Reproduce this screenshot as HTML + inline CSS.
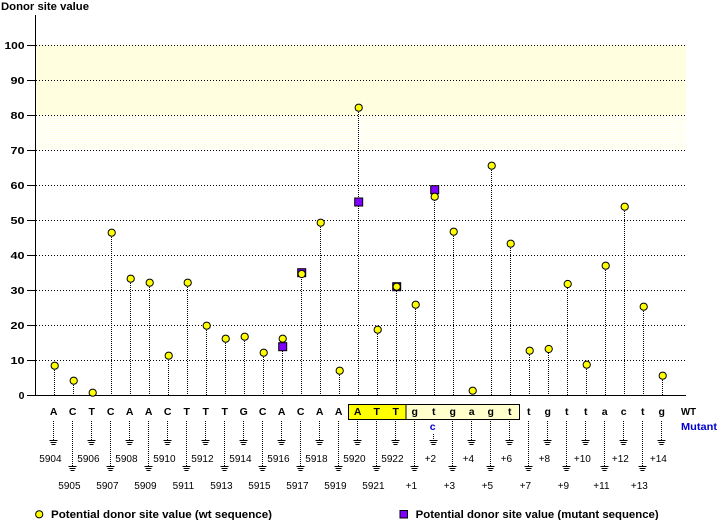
<!DOCTYPE html>
<html><head><meta charset="utf-8"><style>
html,body{margin:0;padding:0;background:#fff;}
svg{display:block;}
text{font-family:"Liberation Sans",Arial,sans-serif;}
.b{font-weight:bold;font-size:10px;}
.bl{font-weight:bold;font-size:10.5px;}
.bg{font-weight:bold;font-size:11px;}
.n{font-size:10px;}
</style></head><body>
<svg width="720" height="520" viewBox="0 0 720 520" xmlns="http://www.w3.org/2000/svg">
<defs>
<pattern id="dith" width="2" height="2" patternUnits="userSpaceOnUse">
<rect width="2" height="2" fill="#fff"/>
<rect x="0" y="0" width="1" height="1" fill="#ffffdc"/>
<rect x="1" y="1" width="1" height="1" fill="#fffff4"/>
</pattern>
<g id="gnd"><path d="M-4 0.5h8M-3 2.5h6M-2 4.5h4" stroke="#000" stroke-width="1" fill="none" shape-rendering="crispEdges"/></g>
</defs>
<text class="bg" x="1" y="10" textLength="88" lengthAdjust="spacingAndGlyphs">Donor site value</text>
<!-- band -->
<rect x="36" y="45" width="650" height="70" fill="#ffffe0"/>
<rect x="36" y="115" width="650" height="35" fill="url(#dith)"/>
<!-- grid -->
<g stroke="#000" stroke-width="1" stroke-dasharray="1 2" shape-rendering="crispEdges">
<path d="M36 45.5H686M36 80.5H686M36 115.5H686M36 150.5H686M36 185.5H686M36 220.5H686M36 255.5H686M36 290.5H686M36 325.5H686M36 360.5H686"/>
</g>
<!-- axes -->
<g stroke="#000" stroke-width="1" shape-rendering="crispEdges">
<path d="M35.5 15V396M35 395.5H686"/>
<path d="M27 45.5H35M27 80.5H35M27 115.5H35M27 150.5H35M27 185.5H35M27 220.5H35M27 255.5H35M27 290.5H35M27 325.5H35M27 360.5H35M27 395.5H35"/>
</g>
<g class="bl" text-anchor="end">
<text x="24.5" y="49" textLength="20" lengthAdjust="spacingAndGlyphs">100</text>
<text x="24.5" y="84" textLength="14" lengthAdjust="spacingAndGlyphs">90</text>
<text x="24.5" y="119" textLength="14" lengthAdjust="spacingAndGlyphs">80</text>
<text x="24.5" y="154" textLength="14" lengthAdjust="spacingAndGlyphs">70</text>
<text x="24.5" y="189" textLength="14" lengthAdjust="spacingAndGlyphs">60</text>
<text x="24.5" y="224" textLength="14" lengthAdjust="spacingAndGlyphs">50</text>
<text x="24.5" y="259" textLength="14" lengthAdjust="spacingAndGlyphs">40</text>
<text x="24.5" y="294" textLength="14" lengthAdjust="spacingAndGlyphs">30</text>
<text x="24.5" y="329" textLength="14" lengthAdjust="spacingAndGlyphs">20</text>
<text x="24.5" y="364" textLength="14" lengthAdjust="spacingAndGlyphs">10</text>
<text x="24.5" y="399">0</text>
</g>
<!-- stems -->
<path stroke="#000" stroke-width="1" stroke-dasharray="1 1" fill="none" shape-rendering="crispEdges" d="M54.5 366V395M73.5 381V395M92.5 393V395M111.5 233V395M130.5 279V395M149.5 283V395M168.5 356V395M187.5 283V395M206.5 326V395M225.5 339V395M244.5 337V395M263.5 353V395M282.5 339V395M301.5 273V395M320.5 223V395M339.5 371V395M358.5 108V395M377.5 330V395M396.5 287V395M415.5 305V395M434.5 190V395M453.5 232V395M472.5 391V395M491.5 166V395M510.5 244V395M529.5 351V395M548.5 349V395M567.5 284V395M586.5 365V395M605.5 266V395M624.5 207V395M643.5 307V395M662.5 376V395"/>
<!-- mutant squares -->
<g fill="#8000ff" stroke="#000" stroke-width="1">
<rect x="278.7" y="342.7" width="8" height="8"/>
<rect x="297.7" y="268.7" width="8" height="8"/>
<rect x="354.7" y="198" width="8" height="8"/>
<rect x="392.7" y="282.7" width="8" height="8"/>
<rect x="430.7" y="185.7" width="8" height="8"/>
</g>
<!-- wt circles -->
<g fill="#ffff00" stroke="#000" stroke-width="1">
<circle cx="54.7" cy="365.7" r="3.6"/>
<circle cx="73.7" cy="380.7" r="3.6"/>
<circle cx="92.7" cy="392.7" r="3.6"/>
<circle cx="111.7" cy="232.7" r="3.6"/>
<circle cx="130.7" cy="278.7" r="3.6"/>
<circle cx="149.7" cy="282.7" r="3.6"/>
<circle cx="168.7" cy="355.7" r="3.6"/>
<circle cx="187.7" cy="282.7" r="3.6"/>
<circle cx="206.7" cy="325.7" r="3.6"/>
<circle cx="225.7" cy="338.7" r="3.6"/>
<circle cx="244.7" cy="336.7" r="3.6"/>
<circle cx="263.7" cy="352.7" r="3.6"/>
<circle cx="282.7" cy="338.7" r="3.6"/>
<circle cx="301.7" cy="274" r="3.6"/>
<circle cx="320.7" cy="222.7" r="3.6"/>
<circle cx="339.7" cy="370.7" r="3.6"/>
<circle cx="358.7" cy="107.7" r="3.6"/>
<circle cx="377.7" cy="329.7" r="3.6"/>
<circle cx="396.7" cy="286.7" r="3.6"/>
<circle cx="415.7" cy="304.7" r="3.6"/>
<circle cx="434.7" cy="196.7" r="3.6"/>
<circle cx="453.7" cy="231.7" r="3.6"/>
<circle cx="472.7" cy="390.7" r="3.6"/>
<circle cx="491.7" cy="165.7" r="3.6"/>
<circle cx="510.7" cy="243.7" r="3.6"/>
<circle cx="529.7" cy="350.7" r="3.6"/>
<circle cx="548.7" cy="349" r="3.6"/>
<circle cx="567.7" cy="284" r="3.6"/>
<circle cx="586.7" cy="364.7" r="3.6"/>
<circle cx="605.7" cy="265.7" r="3.6"/>
<circle cx="624.7" cy="206.7" r="3.6"/>
<circle cx="643.7" cy="306.7" r="3.6"/>
<circle cx="662.7" cy="375.7" r="3.6"/>
</g>
<!-- sequence boxes -->
<rect x="348.5" y="404.5" width="57.5" height="15" fill="#ffff00" stroke="#000" stroke-width="1"/>
<rect x="406" y="404.5" width="113.5" height="15" fill="#ffffcc" stroke="#000" stroke-width="1"/>
<!-- bases -->
<g class="bl" text-anchor="middle">
<text x="53.7" y="415">A</text><text x="72.7" y="415">C</text><text x="91.7" y="415">T</text><text x="110.7" y="415">C</text>
<text x="129.7" y="415">A</text><text x="148.7" y="415">A</text><text x="167.7" y="415">C</text><text x="186.7" y="415">T</text>
<text x="205.7" y="415">T</text><text x="224.7" y="415">T</text><text x="243.7" y="415">G</text><text x="262.7" y="415">C</text>
<text x="281.7" y="415">A</text><text x="300.7" y="415">C</text><text x="319.7" y="415">A</text><text x="338.7" y="415">A</text>
<text x="357.7" y="415">A</text><text x="376.7" y="415">T</text><text x="395.7" y="415">T</text><text x="414.7" y="415">g</text>
<text x="433.7" y="415">t</text><text x="452.7" y="415">g</text><text x="471.7" y="415">a</text><text x="490.7" y="415">g</text>
<text x="509.7" y="415">t</text><text x="528.7" y="415">t</text><text x="547.7" y="415">g</text><text x="566.7" y="415">t</text>
<text x="585.7" y="415">t</text><text x="604.7" y="415">a</text><text x="623.7" y="415">c</text><text x="642.7" y="415">t</text>
<text x="661.7" y="415">g</text>
<text x="432.7" y="430" fill="#0000cc">c</text>
</g>
<text class="bl" x="681" y="415" textLength="15" lengthAdjust="spacingAndGlyphs">WT</text>
<text class="bl" x="681" y="430" fill="#0000cc" textLength="36" lengthAdjust="spacingAndGlyphs">Mutant</text>
<!-- lower dotted lines -->
<path stroke="#000" stroke-width="1" stroke-dasharray="1 1" fill="none" shape-rendering="crispEdges" d="M53.5 421V440M72.5 421V466M91.5 421V440M110.5 421V466M129.5 421V440M148.5 421V466M167.5 421V440M186.5 421V466M205.5 421V440M224.5 421V466M243.5 421V440M262.5 421V466M281.5 421V440M300.5 421V466M319.5 421V440M338.5 421V466M357.5 421V440M376.5 421V466M395.5 421V440M414.5 421V466M433.5 434V440M452.5 421V466M471.5 421V440M490.5 421V466M509.5 421V440M528.5 421V466M547.5 421V440M566.5 421V466M585.5 421V440M604.5 421V466M623.5 421V440M642.5 421V466M661.5 421V440"/>
<!-- grounds -->
<use href="#gnd" x="53.5" y="440"/><use href="#gnd" x="72.5" y="466"/><use href="#gnd" x="91.5" y="440"/><use href="#gnd" x="110.5" y="466"/>
<use href="#gnd" x="129.5" y="440"/><use href="#gnd" x="148.5" y="466"/><use href="#gnd" x="167.5" y="440"/><use href="#gnd" x="186.5" y="466"/>
<use href="#gnd" x="205.5" y="440"/><use href="#gnd" x="224.5" y="466"/><use href="#gnd" x="243.5" y="440"/><use href="#gnd" x="262.5" y="466"/>
<use href="#gnd" x="281.5" y="440"/><use href="#gnd" x="300.5" y="466"/><use href="#gnd" x="319.5" y="440"/><use href="#gnd" x="338.5" y="466"/>
<use href="#gnd" x="357.5" y="440"/><use href="#gnd" x="376.5" y="466"/><use href="#gnd" x="395.5" y="440"/><use href="#gnd" x="414.5" y="466"/>
<use href="#gnd" x="433.5" y="440"/><use href="#gnd" x="452.5" y="466"/><use href="#gnd" x="471.5" y="440"/><use href="#gnd" x="490.5" y="466"/>
<use href="#gnd" x="509.5" y="440"/><use href="#gnd" x="528.5" y="466"/><use href="#gnd" x="547.5" y="440"/><use href="#gnd" x="566.5" y="466"/>
<use href="#gnd" x="585.5" y="440"/><use href="#gnd" x="604.5" y="466"/><use href="#gnd" x="623.5" y="440"/><use href="#gnd" x="642.5" y="466"/>
<use href="#gnd" x="661.5" y="440"/>
<!-- position labels -->
<g class="n" text-anchor="middle">
<text x="50.4" y="462">5904</text><text x="69.4" y="489">5905</text><text x="88.4" y="462">5906</text><text x="107.4" y="489">5907</text>
<text x="126.4" y="462">5908</text><text x="145.4" y="489">5909</text><text x="164.4" y="462">5910</text><text x="183.4" y="489">5911</text>
<text x="202.4" y="462">5912</text><text x="221.4" y="489">5913</text><text x="240.4" y="462">5914</text><text x="259.4" y="489">5915</text>
<text x="278.4" y="462">5916</text><text x="297.4" y="489">5917</text><text x="316.4" y="462">5918</text><text x="335.4" y="489">5919</text>
<text x="354.4" y="462">5920</text><text x="373.4" y="489">5921</text><text x="392.4" y="462">5922</text><text x="411.4" y="489">+1</text>
<text x="430.4" y="462">+2</text><text x="449.4" y="489">+3</text><text x="468.4" y="462">+4</text><text x="487.4" y="489">+5</text>
<text x="506.4" y="462">+6</text><text x="525.4" y="489">+7</text><text x="544.4" y="462">+8</text><text x="563.4" y="489">+9</text>
<text x="582.4" y="462">+10</text><text x="601.4" y="489">+11</text><text x="620.4" y="462">+12</text><text x="639.4" y="489">+13</text>
<text x="658.4" y="462">+14</text>
</g>
<!-- legend -->
<circle cx="39.2" cy="514.3" r="3.6" fill="#ffff00" stroke="#000" stroke-width="1"/>
<text class="bg" x="51" y="518" textLength="221" lengthAdjust="spacingAndGlyphs">Potential donor site value (wt sequence)</text>
<rect x="400" y="510.5" width="7.5" height="7.5" fill="#8000ff" stroke="#000" stroke-width="1"/>
<text class="bg" x="415.7" y="518" textLength="243" lengthAdjust="spacingAndGlyphs">Potential donor site value (mutant sequence)</text>
</svg>
</body></html>
